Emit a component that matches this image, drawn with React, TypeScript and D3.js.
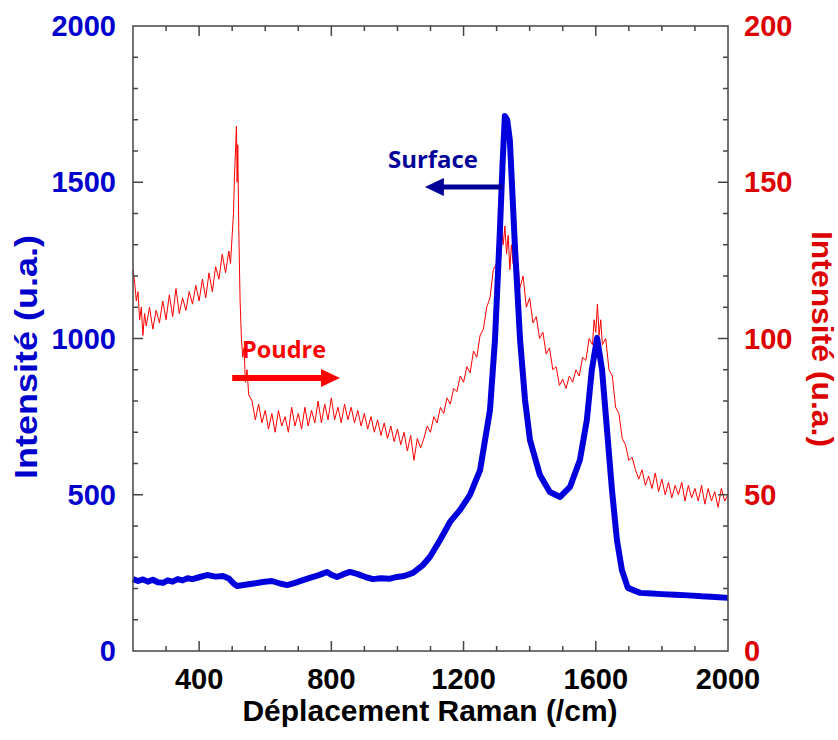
import React from "react";
import * as d3 from "d3";

// Surface spectrum (left axis)
const surfaceX = [200, 215, 230, 245, 260, 275, 291, 305, 320, 335, 350, 365, 380, 400, 424, 450, 472, 490, 505, 515, 540, 565, 593, 620, 645, 666, 690, 712, 735, 760, 787, 800, 817, 835, 856, 880, 905, 926, 950, 975, 999, 1020, 1047, 1077, 1098, 1129, 1159, 1189, 1219, 1250, 1280, 1295, 1310, 1318, 1325, 1332, 1340, 1356, 1371, 1386, 1401, 1431, 1461, 1492, 1522, 1552, 1573, 1588, 1604, 1619, 1634, 1649, 1664, 1679, 1697, 1734, 1770, 1800, 1840, 1880, 1920, 1960, 2000];
const surfaceY = [230, 224, 229, 222, 228, 220, 218, 226, 222, 230, 226, 233, 230, 236, 243, 238, 240, 232, 215, 208, 212, 216, 221, 224, 216, 211, 218, 226, 234, 242, 253, 244, 237, 245, 253, 246, 236, 230, 233, 231, 237, 240, 250, 275, 301, 355, 413, 451, 499, 579, 771, 995, 1347, 1560, 1712, 1700, 1635, 1283, 995, 803, 675, 563, 509, 493, 525, 611, 739, 899, 1002, 899, 707, 515, 355, 259, 202, 186, 184, 182, 180, 178, 175, 173, 170];

// Poudre spectrum (right axis)
const poudreX = [200, 205, 210, 215, 220, 225, 230, 235, 240, 250, 260, 270, 280, 290, 300, 310, 320, 330, 340, 350, 360, 370, 380, 390, 400, 410, 420, 430, 440, 450, 460, 470, 480, 490, 495, 500, 504, 507, 510, 513, 515, 517, 520, 524, 528, 532, 536, 540, 545, 550,
  560, 570, 580, 590, 600, 610, 620, 630, 640, 650, 660, 670, 680, 690, 700, 710, 720, 730, 740, 750, 760, 770, 780, 790, 800, 810, 820, 830, 840, 850, 860, 870, 880, 890, 900, 910, 920, 930, 940, 950, 960, 970, 980, 990, 1000, 1010, 1020, 1030, 1040, 1050, 1060, 1070,
  1080, 1090, 1100, 1110, 1120, 1130, 1140, 1150, 1160, 1170, 1180, 1190, 1200, 1210, 1220, 1230, 1240, 1250, 1260, 1270, 1280, 1290, 1300, 1305, 1310, 1315, 1320, 1325, 1330, 1335, 1340, 1345, 1350, 1355, 1360, 1365, 1370, 1380, 1390, 1400, 1410, 1420, 1430, 1440, 1450, 1460, 1470, 1480, 1490, 1500, 1510, 1520, 1530, 1540, 1550, 1560, 1570, 1580, 1590, 1595, 1600, 1605, 1610, 1615, 1620, 1630, 1640, 1650, 1660, 1670, 1680, 1690, 1700, 1710, 1720,
  1730, 1740, 1750, 1760, 1770, 1780, 1790, 1800, 1810, 1820, 1830, 1840, 1850, 1860, 1870, 1880, 1890, 1900, 1910, 1920, 1930, 1940, 1950, 1960, 1970, 1980, 1990, 2000];
const poudreY = [122, 118, 112, 115, 106, 110, 101, 108, 104, 110, 103, 109, 105, 112, 106, 114, 107, 116, 108, 113, 109, 115, 111, 117, 112, 119, 113, 121, 115, 123, 119, 127, 121, 128, 124, 133, 140, 152, 160, 168, 150, 162, 135, 112, 100, 94, 97, 86, 90, 82,
  80, 74, 79, 73, 77, 71, 76, 70, 77, 72, 75, 70, 78, 72, 76, 71, 78, 72, 77, 73, 80, 73, 79, 74, 81, 74, 78, 73, 79, 74, 78, 73, 77, 72, 76, 71, 75, 70, 74, 69, 73, 68, 72, 67, 71, 66, 70, 64, 69, 61, 68, 65,
  68, 72, 70, 75, 73, 78, 76, 81, 79, 84, 83, 88, 86, 91, 89, 96, 94, 101, 103, 110, 113, 122, 124, 131, 127, 135, 130, 136, 127, 133, 122, 130, 124, 128, 119, 124, 116, 120, 110, 113, 105, 107, 100, 102, 95, 97, 90, 91, 85, 87, 84, 88, 86, 90, 88, 94, 93, 100, 98, 106, 102, 111, 101, 106, 98, 100, 90, 88, 78, 76, 68, 66, 61, 62, 58,
  55, 58, 53, 56, 52, 57, 51, 55, 50, 54, 49, 53, 50, 54, 48, 53, 49, 52, 48, 53, 47, 52, 48, 51, 46, 52, 48, 50];

const xTickLabels = [400, 800, 1200, 1600, 2000];
const leftTickLabels = [0, 500, 1000, 1500, 2000];
const rightTickLabels = [0, 50, 100, 150, 200];

const BLUE = "#0000dd";
const BLUE_TXT = "#0000cc";
const RED = "#ff0000";
const RED_TXT = "#dd0000";
const NAVY = "#000099";
const AXIS = "#444";

export default function App() {
  const W = 838, H = 740;
  const x = d3.scaleLinear().domain([200, 2000]).range([133, 728]);
  const yL = d3.scaleLinear().domain([0, 2000]).range([651, 26]);
  const yR = d3.scaleLinear().domain([0, 200]).range([651, 26]);

  const surf = surfaceX.map((v, i) => [v, surfaceY[i]] as [number, number]);
  const poud = poudreX.map((v, i) => [v, poudreY[i]] as [number, number]);
  const lineL = d3.line<[number, number]>().x(d => x(d[0])).y(d => yL(d[1]));
  const lineR = d3.line<[number, number]>().x(d => x(d[0])).y(d => yR(d[1]));

  const xMinor = d3.range(300, 2000, 100);
  const yMinorL = d3.range(100, 2000, 100);
  const yMinorR = d3.range(10, 200, 10);

  const tickFont = { fontFamily: "'Liberation Sans', Arial, sans-serif", fontWeight: 700 as const, fontSize: 29 };
  const [x0, x1] = x.range();
  const [yb, yt] = yL.range();

  const sA = { from: x(1319), to: x(1083), y: yL(1485) };
  const pA = { from: x(500), to: x(826), y: yL(874) };

  return (
    <svg width={W} height={H} style={{ position: "absolute", left: 0, top: 0, background: "#fff" }}>
      <rect x={0} y={0} width={W} height={H} fill="#fff" />
      <path d={lineR(poud) || ""} fill="none" stroke={RED} strokeWidth={1} />
      <path d={lineL(surf) || ""} fill="none" stroke={BLUE} strokeWidth={6} strokeLinejoin="round" />

      <rect x={x0} y={yt} width={x1 - x0} height={yb - yt} fill="none" stroke={AXIS} strokeWidth={1.5} />

      {xMinor.map(v => {
        const len = v % 400 === 0 ? 10 : 5;
        return (
          <g key={"xt" + v}>
            <line x1={x(v)} x2={x(v)} y1={yb} y2={yb - len} stroke={AXIS} strokeWidth={1.5} />
            <line x1={x(v)} x2={x(v)} y1={yt} y2={yt + len} stroke={AXIS} strokeWidth={1.5} />
          </g>
        );
      })}
      {yMinorL.map(v => {
        const len = v % 500 === 0 ? 10 : 5;
        return <line key={"yl" + v} x1={x0} x2={x0 + len} y1={yL(v)} y2={yL(v)} stroke={AXIS} strokeWidth={1.5} />;
      })}
      {yMinorR.map(v => {
        const len = v % 50 === 0 ? 10 : 5;
        return <line key={"yr" + v} x1={x1} x2={x1 - len} y1={yR(v)} y2={yR(v)} stroke={AXIS} strokeWidth={1.5} />;
      })}

      {xTickLabels.map(v => (
        <text key={"xl" + v} x={x(v)} y={689} textAnchor="middle" fill="#000" style={tickFont}>{v}</text>
      ))}
      {leftTickLabels.map(v => (
        <text key={"ll" + v} x={116} y={yL(v) + 10} textAnchor="end" fill={BLUE_TXT} style={tickFont}>{v}</text>
      ))}
      {rightTickLabels.map(v => (
        <text key={"rl" + v} x={744} y={yR(v) + 10} textAnchor="start" fill={RED_TXT} style={tickFont}>{v}</text>
      ))}

      <text x={430} y={721} textAnchor="middle" fill="#000" style={{ ...tickFont, fontSize: 30 }}>Déplacement Raman (/cm)</text>
      <text transform={`translate(37,357) rotate(-90)`} textAnchor="middle" fill={BLUE_TXT}
        style={{ ...tickFont, fontSize: 31 }} textLength={244} lengthAdjust="spacingAndGlyphs">Intensité (u.a.)</text>
      <text transform={`translate(812,339) rotate(90)`} textAnchor="middle" fill={RED_TXT}
        style={{ ...tickFont, fontSize: 30 }} textLength={216} lengthAdjust="spacingAndGlyphs">Intensité (u.a.)</text>

      <text x={388} y={168} fill={NAVY} style={{ fontFamily: "'Open Sans', 'Noto Sans', sans-serif", fontWeight: 700, fontSize: 24 }}
        textLength={90} lengthAdjust="spacingAndGlyphs">Surface</text>
      <line x1={sA.from} x2={sA.to + 16} y1={sA.y} y2={sA.y} stroke={NAVY} strokeWidth={5} />
      <path d={`M${sA.to},${sA.y} L${sA.to + 19},${sA.y - 9} L${sA.to + 19},${sA.y + 9} Z`} fill={NAVY} />

      <text x={242} y={358} fill={RED} style={{ fontFamily: "'Open Sans', 'Noto Sans', sans-serif", fontWeight: 700, fontSize: 24 }}
        textLength={84} lengthAdjust="spacingAndGlyphs">Poudre</text>
      <line x1={pA.from} x2={pA.to - 16} y1={pA.y} y2={pA.y} stroke={RED} strokeWidth={6} />
      <path d={`M${pA.to},${pA.y} L${pA.to - 19},${pA.y - 9} L${pA.to - 19},${pA.y + 9} Z`} fill={RED} />
    </svg>
  );
}
